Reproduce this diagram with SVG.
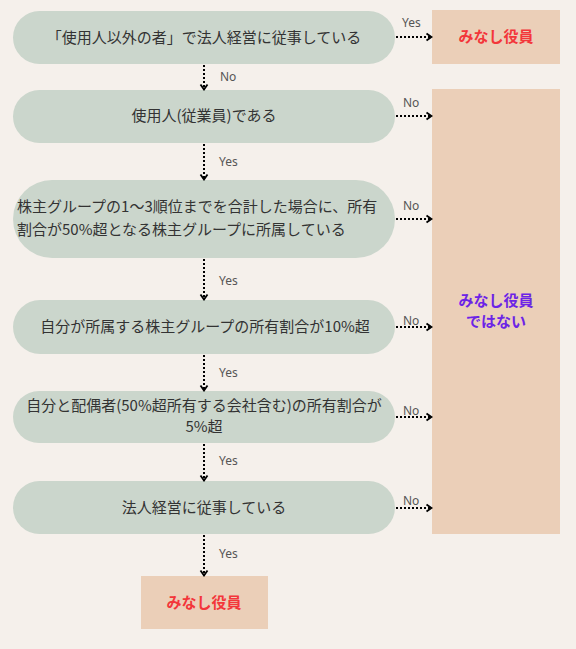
<svg xmlns="http://www.w3.org/2000/svg" width="576" height="649" viewBox="0 0 576 649">
<defs>
<marker id="chev" viewBox="0 0 8 10" refX="7" refY="5" markerWidth="8" markerHeight="10" markerUnits="userSpaceOnUse" orient="auto">
<path d="M1.5,1.5 L6.5,5 L1.5,8.5" fill="none" stroke="#000" stroke-width="1.8"/>
</marker>
</defs>
<style>
.node{fill:#cbd6cc}
.box{fill:#ebcfb8}
.t{font-family:"Noto Sans CJK JP","Noto Sans",sans-serif;font-size:15px;fill:#333}
.c{text-anchor:middle}
.lbl{font-family:"Noto Sans","Noto Sans CJK JP",sans-serif;font-size:12px;fill:#555}
.red{font-family:"Noto Sans CJK JP",sans-serif;font-size:15px;font-weight:bold;fill:#f3363a;text-anchor:middle}
.pur{font-family:"Noto Sans CJK JP",sans-serif;font-size:15px;font-weight:bold;fill:#6c24e6;text-anchor:middle}
.ln{stroke:#000;stroke-width:2;stroke-dasharray:2,2;fill:none;marker-end:url(#chev)}
</style>
<rect x="0" y="0" width="576" height="649" fill="#f5f0eb"/>

<g id="q1">
<rect class="node" x="13" y="11" width="382" height="53" rx="26.5"/>
<text class="t c" x="204" y="43">「使用人以外の者」で法人経営に従事している</text>
</g>
<g id="r1">
<rect class="box" x="432" y="10" width="128" height="54"/>
<text class="red" x="496" y="42">みなし役員</text>
</g>
<g id="q2">
<rect class="node" x="13" y="90" width="382" height="53" rx="26.5"/>
<text class="t c" x="204" y="121">使用人(従業員)である</text>
</g>
<g id="rno">
<rect class="box" x="432" y="89" width="128" height="445"/>
<text class="pur" x="496" y="306">みなし役員</text>
<text class="pur" x="496" y="327">ではない</text>
</g>
<g id="q3">
<rect class="node" x="13" y="180" width="382" height="78" rx="39"/>
<text class="t" x="17" y="212">株主グループの1〜3順位までを合計した場合に、所有</text>
<text class="t" x="17" y="235">割合が50%超となる株主グループに所属している</text>
</g>
<g id="q4">
<rect class="node" x="13" y="300" width="382" height="54" rx="27"/>
<text class="t c" x="205" y="332">自分が所属する株主グループの所有割合が10%超</text>
</g>
<g id="q5">
<rect class="node" x="13" y="391" width="382" height="52" rx="26"/>
<text class="t c" x="204" y="411">自分と配偶者(50%超所有する会社含む)の所有割合が</text>
<text class="t c" x="204" y="432">5%超</text>
</g>
<g id="q6">
<rect class="node" x="13" y="481" width="382" height="53" rx="26.5"/>
<text class="t c" x="204" y="513">法人経営に従事している</text>
</g>
<g id="r2">
<rect class="box" x="141" y="576" width="127" height="53"/>
<text class="red" x="204" y="608">みなし役員</text>
</g>

<g id="connectors">
<path class="ln" d="M396,37 H432"/>
<path class="ln" d="M204,65 V90"/>
<path class="ln" d="M396,116 H432"/>
<path class="ln" d="M204,144 V180"/>
<path class="ln" d="M396,219 H432"/>
<path class="ln" d="M204,259 V300"/>
<path class="ln" d="M396,327 H432"/>
<path class="ln" d="M204,355 V391"/>
<path class="ln" d="M396,417 H432"/>
<path class="ln" d="M204,444 V481"/>
<path class="ln" d="M396,508 H432"/>
<path class="ln" d="M204,535 V576"/>
<text class="lbl" x="402" y="27">Yes</text>
<text class="lbl" x="220" y="81">No</text>
<text class="lbl" x="403" y="107">No</text>
<text class="lbl" x="219" y="166">Yes</text>
<text class="lbl" x="403" y="210">No</text>
<text class="lbl" x="219" y="285">Yes</text>
<text class="lbl" x="403" y="325">No</text>
<text class="lbl" x="219" y="377">Yes</text>
<text class="lbl" x="403" y="415">No</text>
<text class="lbl" x="219" y="465">Yes</text>
<text class="lbl" x="403" y="505">No</text>
<text class="lbl" x="219" y="558">Yes</text>
</g>
</svg>
